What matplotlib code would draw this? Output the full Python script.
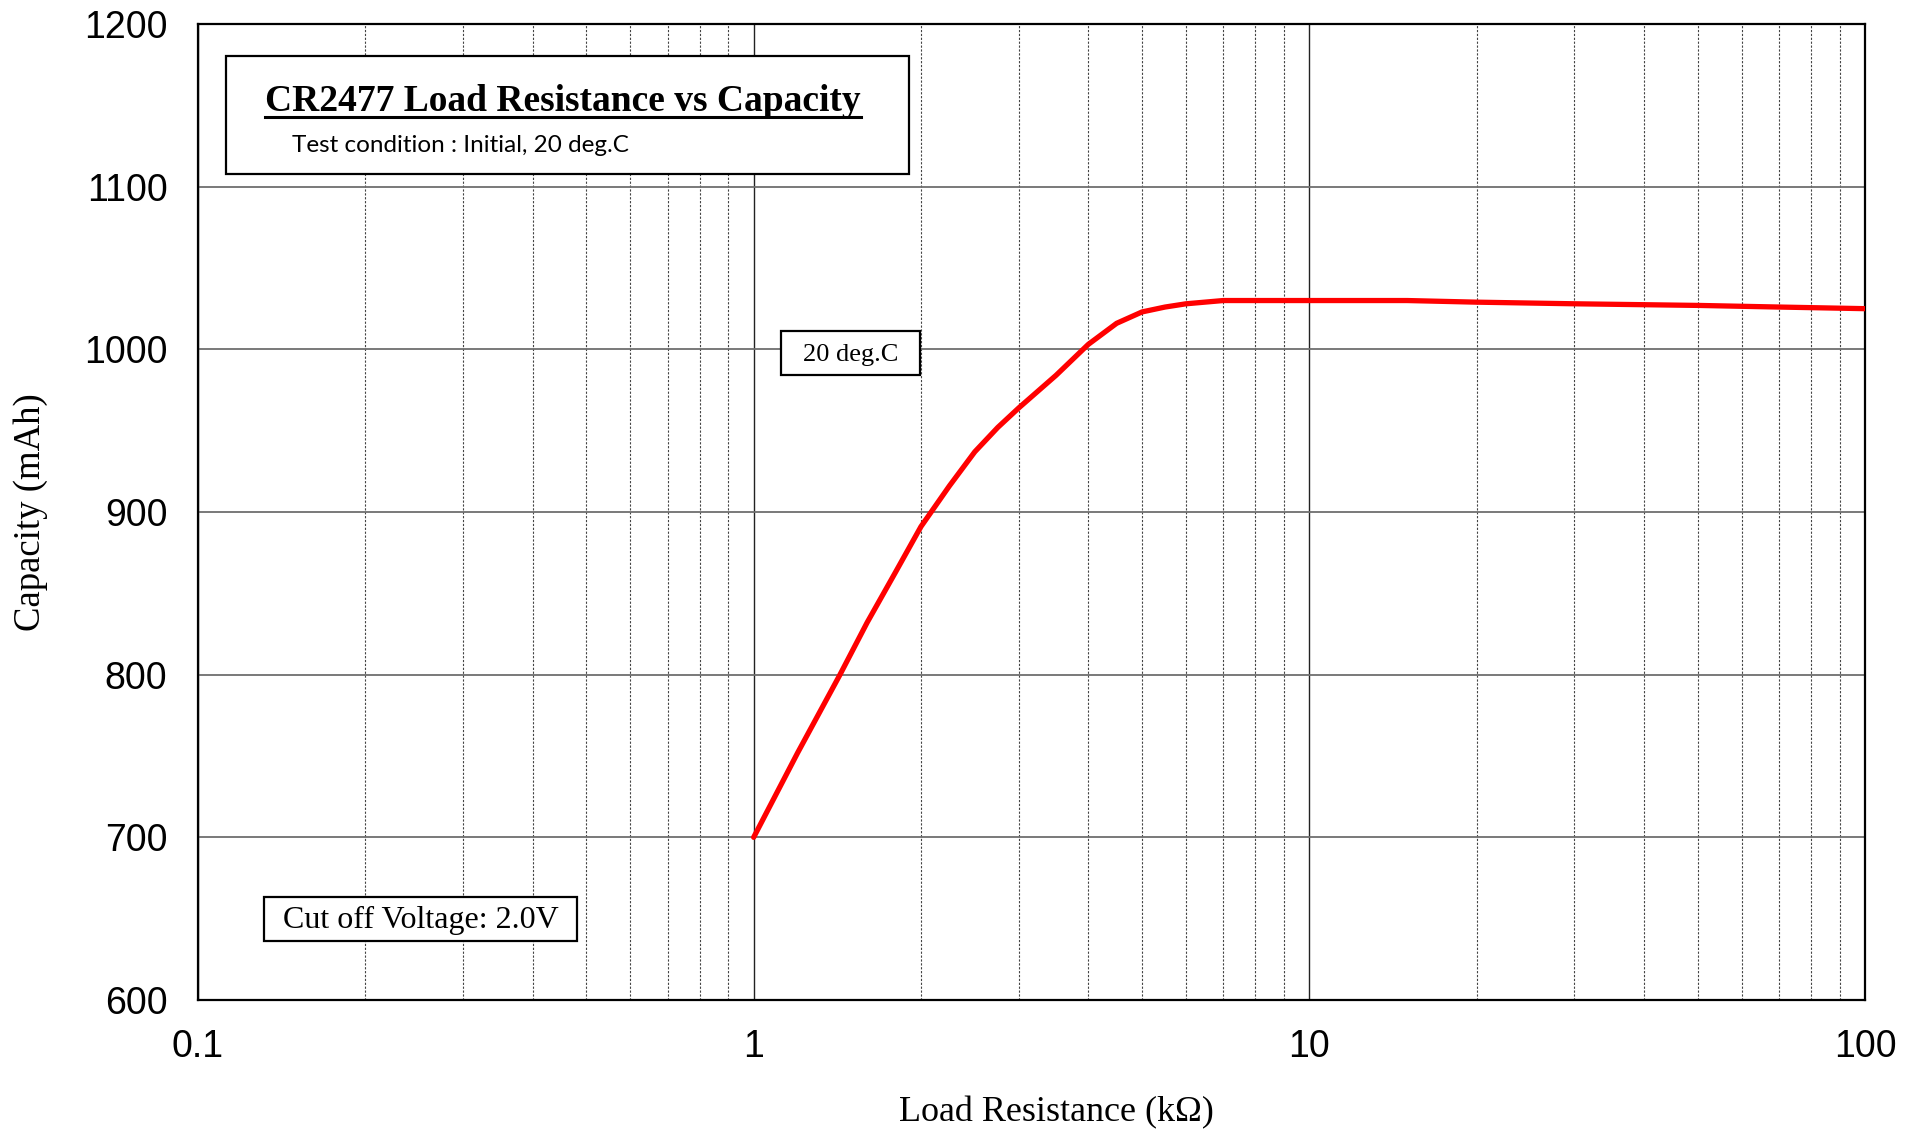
import matplotlib
matplotlib.use("Agg")
import matplotlib.pyplot as plt
from matplotlib.patches import Rectangle
from matplotlib.ticker import LogLocator, NullFormatter, FixedLocator

# load resistance (kOhm) and capacity (mAh)
resistance = [1, 1.2, 1.43, 1.6, 1.8, 2, 2.25, 2.5, 2.75, 3, 3.5, 4, 4.5,
              5, 5.5, 6, 7, 8, 10, 15, 20, 30, 50, 70, 100]
capacity = [700, 752, 800, 832, 863, 891, 916, 937, 952, 964, 984, 1003, 1016,
            1023, 1026, 1028, 1030, 1030, 1030, 1030, 1029, 1028, 1027, 1026, 1025]

x_ticks = [0.1, 1, 10, 100]
x_tick_labels = ['0.1', '1', '10', '100']
y_ticks = [600, 700, 800, 900, 1000, 1100, 1200]

fig = plt.figure(figsize=(19.16, 11.36), dpi=100)
ax = fig.add_axes([198/1916, 1 - 1000/1136, 1667/1916, 976/1136])

ax.set_xscale('log')
ax.set_xlim(0.1, 100)
ax.set_ylim(600, 1200)

ax.xaxis.set_major_locator(FixedLocator(x_ticks))
ax.set_xticks(x_ticks)
ax.set_xticklabels(x_tick_labels)
ax.xaxis.set_minor_locator(LogLocator(base=10, subs=range(2, 10)))
ax.xaxis.set_minor_formatter(NullFormatter())
ax.set_yticks(y_ticks)

ax.grid(True, which='major', axis='y', color='#6e6e6e', lw=1.3)
ax.grid(True, which='major', axis='x', color='#222222', lw=1.0)
ax.grid(True, which='minor', axis='x', color='#444444', lw=0.8, linestyle=(0, (2, 1.5)))
ax.set_axisbelow(True)

ax.tick_params(axis='both', which='both', length=0)
ax.tick_params(axis='y', pad=22, labelsize=27)
ax.tick_params(axis='x', pad=21, labelsize=27)
for lab in ax.get_xticklabels() + ax.get_yticklabels():
    lab.set_fontfamily('Liberation Sans')

for sp in ax.spines.values():
    sp.set_linewidth(1.6)
    sp.set_color('black')

ax.plot(resistance, capacity, color='#ff0000', lw=3.8, solid_capstyle='round',
        solid_joinstyle='round', zorder=3)

fig.text(31/1916, 1 - 512/1136, 'Capacity (mAh)', rotation=90, ha='center', va='center',
         fontsize=26.5, family='Liberation Serif')
fig.text(1056/1916, 1 - 1113/1136, 'Load Resistance (k\u03a9)', ha='center', va='center',
         fontsize=26, family='Liberation Serif')

# title box
ax.add_patch(Rectangle((0.0168, 0.8463), 0.4097, 0.1209, transform=ax.transAxes,
                       facecolor='white', edgecolor='black', lw=1.6, zorder=5))
title = ax.text(0.219, 0.921, 'CR2477 Load Resistance vs Capacity', transform=ax.transAxes,
                ha='center', va='center', fontsize=27, fontweight='bold',
                family='Liberation Serif', zorder=6)
ax.text(0.0564, 0.876, 'Test condition : Initial, 20 deg.C', transform=ax.transAxes,
        ha='left', va='center', fontsize=17.5, family='Lato', zorder=6)

# 20 deg.C label
ax.add_patch(Rectangle((0.3497, 0.6404), 0.0834, 0.0451, transform=ax.transAxes,
                       facecolor='white', edgecolor='black', lw=1.6, zorder=5))
ax.text(0.3914, 0.661, '20 deg.C', transform=ax.transAxes, ha='center', va='center',
        fontsize=19, family='Liberation Serif', zorder=6)

# cut off label
ax.add_patch(Rectangle((0.0396, 0.0605), 0.1878, 0.045, transform=ax.transAxes,
                       facecolor='white', edgecolor='black', lw=1.6, zorder=5))
ax.text(0.1335, 0.081, 'Cut off Voltage: 2.0V', transform=ax.transAxes, ha='center', va='center',
        fontsize=23, family='Liberation Serif', zorder=6)

# underline the title
fig.canvas.draw()
bb = title.get_window_extent().transformed(ax.transAxes.inverted())
ax.plot([bb.x0, bb.x1], [bb.y0 + 0.002, bb.y0 + 0.002], transform=ax.transAxes,
        color='black', lw=2.2, zorder=6)

fig.savefig('out.png', dpi=100)
